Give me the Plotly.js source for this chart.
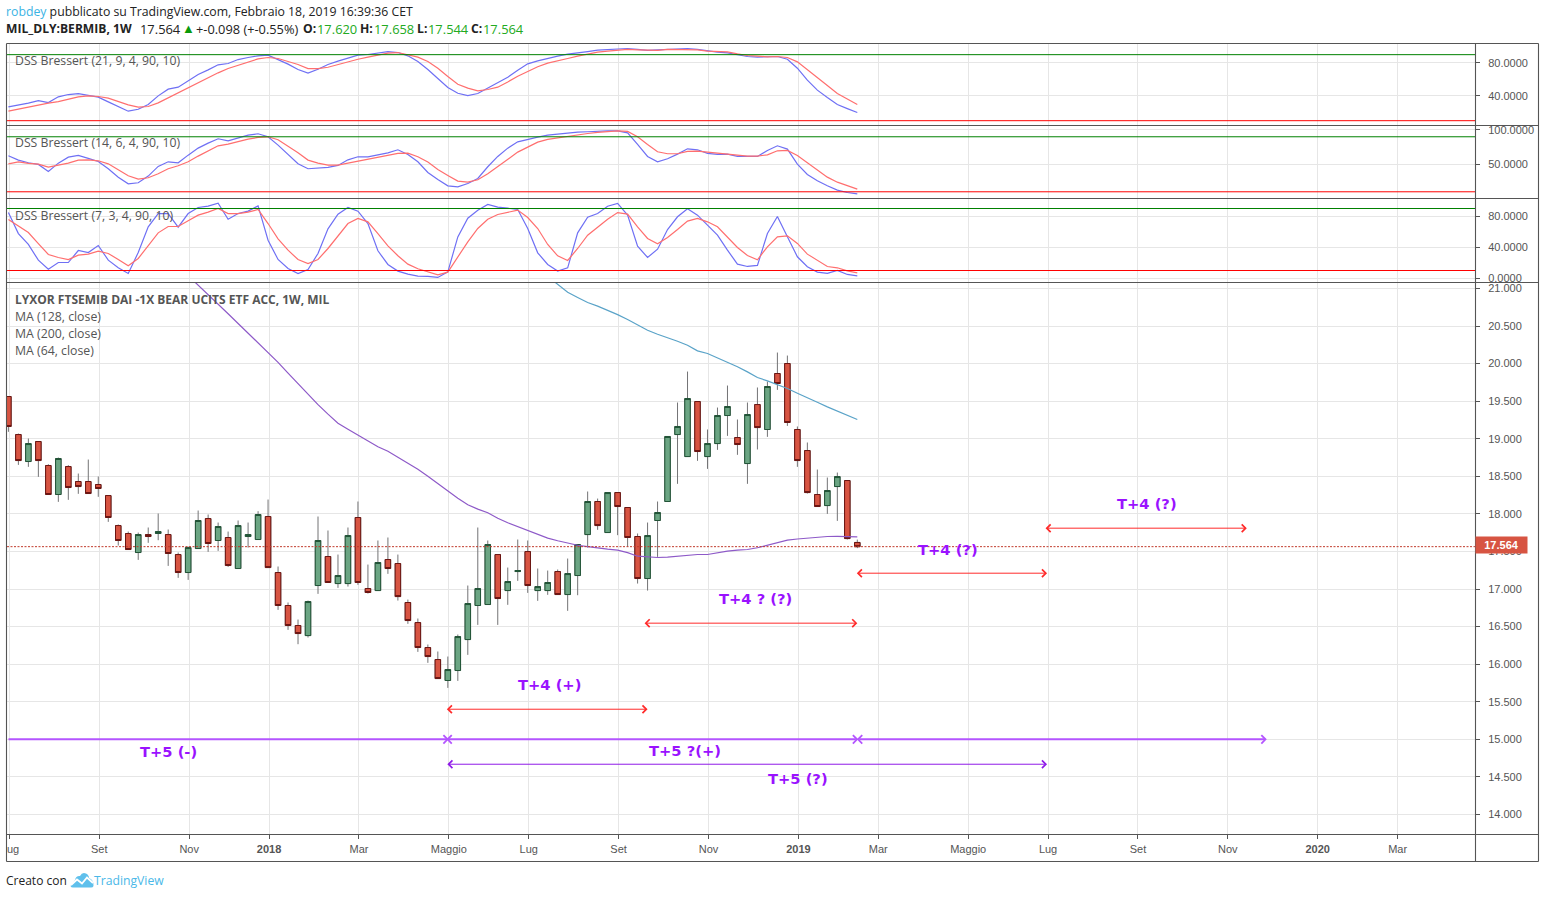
<!DOCTYPE html>
<html><head><meta charset="utf-8">
<script src="https://cdn.plot.ly/plotly-3.0.1.min.js"></script>
<style>html,body{margin:0;padding:0;background:#fff;overflow:hidden}#c{position:absolute;left:0;top:0;width:1545px;height:898px}
#logo{position:absolute;left:70px;top:872px;width:24px;height:16px}</style></head><body>
<div id="c"></div>
<svg id="logo" viewBox="0 0 24 16"><path d="M0.5 14 L5 8 Q6 3.5 10 4 Q12 0 16 1.5 Q19 3 19 6 Q24 8 23.5 14 Q23 15.5 21 15.5 L3 15.5 Q1 15.5 .5 14Z" fill="#5fc0ec"/><path d="M1 13 L7 7.5 L12 11.5 L17 5.5 L23 11" fill="none" stroke="#fff" stroke-width="1.8"/></svg>
<script>
const open = [19.562,19.056,18.697,18.963,18.644,18.258,18.630,18.431,18.431,18.391,
18.244,17.845,17.739,17.486,17.725,17.739,17.725,17.459,17.220,17.539,
17.938,17.646,17.686,17.273,17.699,17.659,17.965,17.220,16.781,16.515,
16.381,17.047,17.433,17.073,17.073,17.952,17.007,16.980,17.393,17.340,
16.821,16.554,16.222,16.062,15.783,15.916,16.328,16.781,16.794,17.459,
16.980,17.233,17.499,16.980,16.980,17.233,16.927,17.180,17.725,18.165,
17.752,18.284,18.085,17.699,17.140,17.912,18.165,19.056,18.763,19.495,
18.763,18.936,19.309,19.016,18.670,19.455,19.123,19.868,20.001,19.123,
18.843,18.258,18.111,18.364,18.444,17.620];
const close = [19.163,18.710,18.936,18.710,18.258,18.737,18.351,18.364,18.271,18.338,
17.952,17.646,17.526,17.725,17.699,17.765,17.473,17.220,17.552,17.912,
17.606,17.832,17.313,17.845,17.725,17.992,17.286,16.781,16.515,16.408,
16.834,17.646,17.087,17.180,17.712,17.087,16.954,17.353,17.273,16.900,
16.581,16.222,16.102,15.809,15.929,16.368,16.807,17.007,17.592,16.874,
17.100,17.246,17.047,17.033,17.087,16.927,17.206,17.592,18.165,17.845,
18.284,18.098,17.686,17.140,17.712,18.018,19.030,19.163,19.535,18.830,
18.936,19.309,19.429,18.923,19.322,19.149,19.695,19.735,19.216,18.710,
18.284,18.098,18.311,18.497,17.672,17.564];
const high = [19.562,19.069,19.003,18.963,18.661,18.750,18.648,18.537,18.723,18.497,
18.244,17.859,17.765,17.752,17.819,18.005,17.792,17.486,17.566,18.045,
17.992,17.885,17.765,17.912,17.885,18.036,18.191,17.300,16.821,16.594,
16.847,17.965,17.779,17.459,17.819,18.165,17.326,17.646,17.686,17.459,
16.860,16.608,16.262,16.169,16.102,16.395,17.047,17.819,17.646,17.459,
17.286,17.659,17.646,17.273,17.246,17.260,17.406,17.592,18.298,18.204,
18.284,18.284,18.085,17.739,17.885,18.165,19.030,19.482,19.894,19.495,
19.123,19.415,19.708,19.256,19.482,19.682,19.761,20.147,20.107,19.163,
18.950,18.590,18.484,18.550,18.444,17.658];
const low = [19.092,18.652,18.626,18.493,18.258,18.160,18.187,18.267,18.271,18.227,
17.894,17.579,17.526,17.388,17.615,17.650,17.308,17.149,17.122,17.539,
17.495,17.508,17.295,17.273,17.552,17.659,17.286,16.723,16.457,16.266,
16.355,16.936,17.087,17.016,17.033,17.056,16.940,16.980,17.202,16.847,
16.537,16.164,16.018,15.809,15.685,15.778,16.124,16.523,16.794,16.523,
16.790,17.109,16.949,16.843,16.923,16.927,16.710,16.918,17.552,17.788,
17.752,17.717,17.561,17.073,16.980,17.428,18.165,18.400,18.763,18.706,
18.599,18.852,19.038,18.786,18.400,18.857,19.025,19.650,19.171,18.626,
18.271,18.098,18.000,17.907,17.659,17.544];

const maPurpleStart = 18;
const maPurple = [21.17,21.046,20.918,20.79,20.663,20.534,20.406,20.278,20.149,20.016,19.872,19.731,19.58,19.453,19.327,19.207,19.127,19.047,18.967,18.894,18.834,18.754,18.675,18.595,18.502,18.402,18.302,18.209,18.122,18.063,18.016,17.943,17.883,17.83,17.776,17.723,17.677,17.643,17.61,17.583,17.564,17.544,17.53,17.517,17.484,17.437,17.424,17.42,17.426,17.437,17.457,17.46,17.46,17.484,17.504,17.517,17.526,17.55,17.583,17.623,17.65,17.666,17.677,17.69,17.699,17.701,17.699,17.693];
const maTealStart = 54;
const maTeal = [21.16,21.05,20.95,20.88,20.813,20.764,20.711,20.651,20.587,20.514,20.444,20.391,20.347,20.298,20.245,20.169,20.134,20.079,20.023,19.959,19.89,19.815,19.77,19.719,19.669,19.606,19.549,19.486,19.424,19.367,19.313,19.256];

const dss21Blue = [26.8,28.8,31.2,34.4,32,38.9,41.7,42.9,40.9,38.5,32.8,26.8,21.5,23.9,29.6,40.1,48.2,50.6,57.9,66,71.6,77.7,79.3,84.1,86.6,88.6,89.4,84.1,78.5,72,67.6,72.4,78.1,82.1,85.8,89.4,90.2,91.8,93.8,92.6,88.6,81.7,72,61.1,50.2,43.3,40.5,42.9,49.8,56.3,62.7,71,78.9,82.5,85.8,88.2,90.6,92.6,93.8,95.5,96.3,96.3,97.5,96.3,95.1,95.9,96.3,97.1,97.5,96.3,94.2,93,92.2,90.2,87.8,87,87.4,87.8,84.5,73.6,59.1,47,38.1,29.6,24.7,19.9];
const dss21Red = [21.5,23.9,26.4,29.6,31.2,33.2,36.5,38.9,40.1,39.3,37.3,33.2,29.2,26.4,27.2,31.6,37.7,43.3,49,55.5,61.9,68,73.2,77.3,81.7,84.9,86.6,85.4,81.7,78.1,73.2,73.2,74.8,78.1,80.9,84.5,87,89.4,91.8,92.6,90.2,87,81.7,73.6,63.5,54.2,49.4,46.2,47.8,50.6,57,63.9,69.6,75.3,79.7,82.9,85.4,88.2,91,93,94.2,95.5,96.3,95.9,95.1,95.1,96.3,96.3,96.7,95.9,94.2,93.4,93.4,91,89,88.2,87.4,87.8,86.6,81.3,72,62.3,52.6,42.9,36.1,29.6];
const dss14Blue = [62.4,56.1,52.2,49.8,39.6,51.7,60.4,62.9,58.5,54.1,43.5,31.3,21.6,23.1,32.8,46.9,53.6,52.2,63.3,73.5,80.8,87.1,84.2,88.1,92.4,94.4,90,77.9,64.3,50.7,43.5,44.9,45.4,48.3,56.5,60.9,60.9,63.8,66.7,71.1,64.3,53.6,38.1,27.9,18.7,17.3,22.1,29.4,46.4,61.4,73.5,82.7,86.6,89.5,92.4,93.9,95.8,96.8,97.3,98.2,98.7,98.7,95.8,78.8,61.4,53.6,58,64.8,72.5,71.1,65.8,64.3,64.8,61.4,61.4,61.4,70.1,76.9,72.1,50.2,35.2,26,18.7,12.4,9,7.1];
const dss14Red = [50.7,53.6,51.2,50.2,45.9,48.8,51.7,56.1,56.5,55.1,50.7,42,33.3,28.4,30.4,36.2,43.5,47.8,53.6,61.9,69.2,76.9,79.3,83.2,86.6,89,90,85.6,76.4,66.7,56.1,51.7,48.8,48.8,51.7,54.6,57.5,59.9,62.9,65.8,66.3,60.9,53.2,42.5,33.8,25.5,24.1,27.5,36.2,46.9,58,67.7,75,82.2,86.1,88.5,90.5,92.9,94.8,96.3,97.8,98.7,97.8,90,78.8,68.2,65.3,65.3,68.7,69.2,67.7,66.2,65.3,63.3,61.9,61.9,63.8,69.6,70.1,62.9,52.7,42,31.3,24,18.7,13.9];
const dss7Blue = [84.8,57.7,43.6,23.3,11.7,20.3,20.3,35.8,33.2,42.3,23.3,13.5,6.1,33.2,66.3,83.5,83.5,65.9,83.5,91.3,93,96.9,76.2,83.5,86.6,93.4,49.1,24.2,12.6,6.1,11.3,32,63.8,82.7,91.3,86.6,70.6,35.4,17.8,9.2,5.3,2.7,2.3,1,8.3,53.4,77.5,87.8,95.2,91.7,90.4,88.7,64.2,32.8,17.8,9.2,13.5,58.6,78.8,83.5,93,96.5,81.4,41.4,26.8,37.5,62.9,79.3,89.6,81.4,68.5,55.6,36.3,18.2,15.2,16.5,57.8,79.7,53.5,27.7,14.8,7.9,6.2,10,4.9,3.1];
const dss7Red = [75.8,67.2,59,44.8,30.7,26.8,24.2,29.8,31.1,35,32,24.2,16,25.5,42.7,58.6,66.8,66.8,74.1,81.4,85.3,90,83.5,83.5,85.3,88.7,70.6,50.9,36.2,24.2,19,24.2,38.4,54.7,70.6,77.1,72.8,57.7,41.8,29,18.2,12.2,8.7,4.4,7.9,27.6,47,64.2,76.2,82.3,85.3,87.9,78.4,64.2,43.6,28.9,22.9,38.4,55.6,66.4,76.2,84.8,82.7,66.4,51.3,44.4,52.6,62.9,73.7,77.1,72.8,66.4,53.5,39.7,29.4,23.8,40.6,53.5,54.7,44.9,31.1,23.4,15.2,13.5,9.6,7];
const dssUpper = 90, dssLower = 10, lastPrice = 17.564;

const priceTicks = [14,14.5,15,15.5,16,16.5,17,17.5,18,18.5,19,19.5,20,20.5,21];
const dss21Ticks = [40,80], dss14Ticks = [50,100], dss7Ticks = [0,40,80];
const xTickPos = [0.1,9.1,18.1,26.1,35.1,44.1,52.1,61.1,70.1,79.1,87.1,96.1,104.1,113.1,122.1,131.1,139.1];
const xTickText = ['','Set','Nov','<b>2018</b>','Mar','Maggio','Lug','Set','Nov','<b>2019</b>','Mar','Maggio','Lug','Set','Nov','<b>2020</b>','Mar'];

// arrows: [fromBar, toBar, price, kind]
const arrowFrom  = [43.75, 63.55, 84.8, 103.7, -0.14, 43.7, 84.8, 43.8];
const arrowTo    = [64, 85, 104, 124, 44.1, 85.1, 126, 104];
const arrowPrice = [15.401,16.546,17.211,17.81,15,15,15,14.669];
const arrowKind  = ['r','r','r','r','pl','p','p','d'];
const noteText  = ['T+4 (+)','T+4 ? (?)','T+4 (?)','T+4 (?)','T+5 (-)','T+5 ?(+)','T+5 (?)'];
const noteBar   = [54.2,74.8,94.1,114,16,67.7,79.1];
const notePrice = [15.733,16.878,17.52,18.14,14.843,14.85,14.483];

const W=1545,H=898, X0=7, X1=1475;
const px=x=>x/W, py=y=>1-y/H;
const idx=(s,n)=>Array.from({length:n},(_,i)=>s+i);
const bars=idx(0,open.length);
const GRID='#e6e6e6', AX='#555555', TXT='#555555';
const sans='"Open Sans", "Noto Sans", sans-serif', ar='"Liberation Sans", Arial, sans-serif';

const topB=open.map((o,i)=>Math.max(o,close[i])), botB=open.map((o,i)=>Math.min(o,close[i]));
const wick={type:'candlestick',x:bars,open,high,low,close,xaxis:'x',yaxis:'y',whiskerwidth:0,hoverinfo:'skip',showlegend:false,
  increasing:{line:{color:'#737375',width:1},fillcolor:'#6ba583'},decreasing:{line:{color:'#737375',width:1},fillcolor:'#d75442'}};
const body={type:'candlestick',x:bars,open,close,high:topB,low:botB,xaxis:'x',yaxis:'y',whiskerwidth:0,hoverinfo:'skip',showlegend:false,
  increasing:{line:{color:'#225437',width:1},fillcolor:'#6ba583'},decreasing:{line:{color:'#6b1512',width:1},fillcolor:'#d75442'}};
const ln=(x,y,c,ya,w)=>({type:'scatter',mode:'lines',x,y,xaxis:'x',yaxis:ya,line:{color:c,width:w||1.2},hoverinfo:'skip',showlegend:false});
const BL='#6f70f4', RD='#ff6f6f';
const data=[
  ln(bars,dss21Blue,BL,'y2'),ln(bars,dss21Red,RD,'y2'),
  ln(bars,dss14Blue,BL,'y3'),ln(bars,dss14Red,RD,'y3'),
  ln(bars,dss7Blue,BL,'y4'),ln(bars,dss7Red,RD,'y4'),
  wick,body,
  ln(idx(maPurpleStart,maPurple.length),maPurple,'#8e5ac8','y'),
  ln(idx(maTealStart,maTeal.length),maTeal,'#5aa3c8','y')
];
const hl=(v,c,ya)=>({type:'line',xref:'paper',x0:px(X0),x1:px(X1),yref:ya,y0:v,y1:v,line:{color:c,width:1},layer:'above'});
const fr=(x0,y0,x1,y1)=>({type:'line',xref:'paper',yref:'paper',x0:px(x0),x1:px(x1),y0:py(y0),y1:py(y1),line:{color:AX,width:1.1},layer:'above'});
const shapes=[
  hl(dssUpper,'#008000','y2'),hl(dssLower,'#ff0000','y2'),
  hl(dssUpper,'#008000','y3'),hl(dssLower,'#ff0000','y3'),
  hl(dssUpper,'#008000','y4'),hl(dssLower,'#ff0000','y4'),
  {type:'line',xref:'paper',x0:px(X0),x1:px(X1),yref:'y',y0:lastPrice,y1:lastPrice,line:{color:'#c0392b',width:1,dash:'2px,1.5px'},layer:'above'},
  fr(6.5,43.5,1538.5,43.5),fr(6.5,861.5,1538.5,861.5),fr(6.5,43.5,6.5,861.5),fr(1538.5,43.5,1538.5,861.5),
  fr(1475.5,43.5,1475.5,861.5),fr(6.5,125.5,1538.5,125.5),fr(6.5,198.5,1538.5,198.5),fr(6.5,282.5,1538.5,282.5),fr(6.5,834.5,1538.5,834.5)
];
const an=[];
const t=(x,y,text,font,extra)=>an.push(Object.assign({xref:'paper',yref:'paper',x:px(x),y:py(y),text,showarrow:false,xanchor:'left',yanchor:'middle',align:'left',font:font,borderpad:0},extra||{}));
const f=(sz,c,fam)=>({size:sz,color:c||TXT,family:fam||sans});
const G='#22aa22', K='#222';
t(5,12,'<span style="color:#3bb3e4">robdey</span> pubblicato su TradingView.com, Febbraio 18, 2019 16:39:36 CET',f(12.27,K));
t(5,29,'<b>MIL_DLY:BERMIB, 1W</b>',f(12.1,K));
t(139,29,'17.564',f(12.9,K));
t(181,28,'▲',f(13,'#0a9a0a'));
t(195,29,'+-0.098 (+-0.55%)',f(12.8,K));
t(302,29,'<b>O:</b>',f(12.2,K));
t(316,29,'17.620',f(12.9,G));
t(359,29,'<b>H:</b>',f(12.2,K));
t(373,29,'17.658',f(12.9,G));
t(416,29,'<b>L:</b>',f(12.2,K));
t(427,29,'17.544',f(12.9,G));
t(470,29,'<b>C:</b>',f(12.2,K));
t(482,29,'17.564',f(12.9,G));
t(14,60.5,'DSS Bressert (21, 9, 4, 90, 10)',f(12.25));
t(14,142.5,'DSS Bressert (14, 6, 4, 90, 10)',f(12.25));
t(14,215.5,'DSS Bressert (7, 3, 4, 90, 10)',f(12.25));
t(14,299.5,'<b>LYXOR FTSEMIB DAI -1X BEAR UCITS ETF ACC, 1W, MIL</b>',f(12));
t(14,316.5,'MA (128, close)',f(12.3));
t(14,333.5,'MA (200, close)',f(12.3));
t(14,350.5,'MA (64, close)',f(12.3));
t(5,880,'Creato con',f(12,K));
t(93,880,'TradingView',f(12.2,'#4ab8e8'));
t(6,849,'ug',f(11,TXT,ar));
t(1475,544.8,'<b>17.564</b>',f(11,'#fff',ar),{bgcolor:'#d75442',width:51,height:16,align:'center',valign:'middle'});

const akind={r:{c:'#ff2a2a',w:1,s:1.5},p:{c:'#b455ff',w:2,s:0.8},pl:{c:'#b455ff',w:2,s:0.8},d:{c:'#8f1ae8',w:1,s:1.5}};
arrowFrom.forEach((a,i)=>{const k=akind[arrowKind[i]];
  an.push({xref:'x',yref:'y',axref:'x',ayref:'y',x:arrowTo[i],y:arrowPrice[i],ax:a,ay:arrowPrice[i],text:' ',showarrow:true,
    arrowside:arrowKind[i]==='pl'?'end':'end+start',arrowhead:4,startarrowhead:4,arrowsize:k.s,startarrowsize:k.s,arrowwidth:k.w,startstandoff:0,standoff:0,arrowcolor:k.c,font:{size:1}});
});
noteText.forEach((s,i)=>an.push({xref:'x',yref:'y',x:noteBar[i],y:notePrice[i],text:'<b>'+s+'</b>',showarrow:false,xanchor:'center',yanchor:'middle',font:{size:14.7,color:'#9a12ff',family:'"DejaVu Sans", Verdana, sans-serif'}}));

const yax=(top,bot,lo,hi,vals,fmt)=>({domain:[py(bot),py(top)],range:[lo,hi],anchor:'x',side:'right',tickmode:'array',tickvals:vals,tickformat:fmt,
  showgrid:true,gridcolor:GRID,gridwidth:1,zeroline:false,showline:false,ticks:'outside',ticklen:4,tickcolor:AX,tickwidth:1,ticklabelstandoff:6,
  tickfont:{family:ar,size:11,color:TXT},fixedrange:true});
const layout={width:W,height:H,autosize:false,margin:{l:0,r:0,t:0,b:0},paper_bgcolor:'#fff',plot_bgcolor:'#fff',showlegend:false,
  boxmode:'overlay',boxgap:0.45,boxgroupgap:0,
  xaxis:{domain:[px(X0),px(X1)],range:[-0.14,146.85],anchor:'y',rangeslider:{visible:false},tickmode:'array',tickvals:xTickPos,ticktext:xTickText,
    showgrid:true,gridcolor:GRID,gridwidth:1,zeroline:false,showline:false,ticks:'outside',ticklen:4,tickcolor:AX,tickwidth:1,ticklabelstandoff:1,
    tickfont:{family:ar,size:11,color:TXT},fixedrange:true},
  yaxis:yax(282.2,834.2,13.738,21.083,priceTicks,'.3f'),
  yaxis2:yax(43.2,125.2,4.55,103.9,dss21Ticks,'.4f'),
  yaxis3:yax(125.5,198.5,0.25,106.4,dss14Ticks,'.4f'),
  yaxis4:yax(198.2,282.2,-5.1,103.3,dss7Ticks,'.4f'),
  shapes,annotations:an};
Plotly.newPlot('c',data,layout,{displayModeBar:false,staticPlot:true});
</script></body></html>
